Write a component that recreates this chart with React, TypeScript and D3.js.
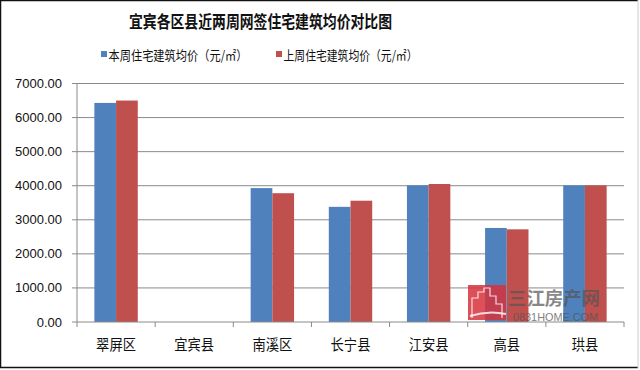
import React from "react";
import * as d3 from "d3";

const categories = ["翠屏区", "宜宾县", "南溪区", "长宁县", "江安县", "高县", "珙县"];
const seriesNames = ["本周住宅建筑均价（元/㎡）", "上周住宅建筑均价（元/㎡）"];
const thisWeek: (number | null)[] = [6430, null, 3930, 3380, 4010, 2760, 4010];
const lastWeek: (number | null)[] = [6500, null, 3780, 3560, 4050, 2720, 4010];
const yTicks = [0, 1000, 2000, 3000, 4000, 5000, 6000, 7000];
const colors = ["#4F81BD", "#C0504D"];

const W = 640;
const H = 370;
const left = 77;
const right = 624;
const top = 83.5;
const bottom = 322;

export default function App() {
  const x0 = d3.scaleBand<string>().domain(categories).range([left, right]).paddingInner(0).paddingOuter(0);
  const x1 = d3
    .scaleBand<number>()
    .domain([0, 1])
    .range([0, x0.bandwidth()])
    .paddingInner(0)
    .paddingOuter(0.8);
  const y = d3.scaleLinear().domain([0, 7000]).range([bottom, top]);
  const series = [thisWeek, lastWeek];
  const cjk = "'Noto Sans CJK SC', 'Noto Sans', sans-serif";
  const num = "'Liberation Sans', Arial, sans-serif";

  const boundaries = categories.map((c) => x0(c) as number).concat([right]);

  return (
    <svg
      width={W}
      height={H}
      style={{ position: "absolute", left: 0, top: 0, background: "#fff" }}
    >
      <rect x={0} y={0} width={W} height={H} fill="#fff" />
      {/* frame */}
      <line x1={0.5} y1={0} x2={0.5} y2={368} stroke="#111" strokeWidth={1.5} />
      <line x1={0} y1={0.5} x2={638} y2={0.5} stroke="#111" strokeWidth={1.5} />
      <line x1={0} y1={367.5} x2={638} y2={367.5} stroke="#111" strokeWidth={1.5} />
      <line x1={638} y1={0} x2={638} y2={368} stroke="#ccc" strokeWidth={1} />

      {/* title */}
      <text
        x={129}
        y={27.5}
        textLength={263}
        lengthAdjust="spacingAndGlyphs"
        fontFamily={cjk}
        fontWeight="bold"
        fontSize={17}
        fill="#111"
      >
        宜宾各区县近两周网签住宅建筑均价对比图
      </text>

      {/* legend */}
      {seriesNames.map((name, i) => {
        const lx = i === 0 ? 101 : 276;
        return (
          <g key={name}>
            <rect x={lx} y={51} width={6} height={6} fill={colors[i]} />
            <text
              x={lx + 7.5}
              y={54.5}
              dominantBaseline="central"
              textLength={i === 0 ? 139 : 134}
              lengthAdjust="spacingAndGlyphs"
              fontFamily={cjk}
              fontSize={13}
              fill="#111"
            >
              {name}
            </text>
          </g>
        );
      })}

      {/* gridlines */}
      {yTicks.map((t) =>
        t === 0 ? null : (
          <line
            key={t}
            x1={left}
            x2={right}
            y1={y(t)}
            y2={y(t)}
            stroke="#8a8a8a"
            strokeWidth={1}
          />
        )
      )}

      {/* bars */}
      {series.map((vals, si) =>
        vals.map((v, ci) =>
          v == null ? null : (
            <rect
              key={`${si}-${ci}`}
              x={(x0(categories[ci]) as number) + (x1(si) as number)}
              y={y(v)}
              width={x1.bandwidth()}
              height={y(0) - y(v)}
              fill={colors[si]}
            />
          )
        )
      )}

      {/* y axis */}
      <line x1={left} x2={left} y1={top} y2={bottom} stroke="#8a8a8a" strokeWidth={1} />
      {yTicks.map((t) => (
        <g key={t}>
          <line x1={left - 5} x2={left} y1={y(t)} y2={y(t)} stroke="#8a8a8a" />
          <text
            x={62}
            y={y(t)}
            textAnchor="end"
            dominantBaseline="central"
            fontFamily={num}
            fontSize={13}
            fill="#111"
          >
            {t.toFixed(2)}
          </text>
        </g>
      ))}

      {/* x axis */}
      <line x1={left} x2={right} y1={bottom} y2={bottom} stroke="#8a8a8a" strokeWidth={1} />
      {boundaries.map((bx, i) => (
        <line key={i} x1={bx} x2={bx} y1={bottom} y2={bottom + 5} stroke="#8a8a8a" />
      ))}
      {categories.map((c) => {
        const tl = c.length * 13.3;
        return (
          <text
            key={c}
            x={(x0(c) as number) + x0.bandwidth() / 2 - tl / 2}
            y={343.5}
            dominantBaseline="central"
            textLength={tl}
            lengthAdjust="spacingAndGlyphs"
            fontFamily={cjk}
            fontSize={15}
            fill="#111"
          >
            {c}
          </text>
        );
      })}

      {/* watermark */}
      <g>
        <rect x={468} y={285} width={38} height={35} fill="#d6323c" opacity={0.85} />
        <path
          d="M472 318 L472 298 L478 298 L478 292 L484 292 L484 288 L490 288 L490 296 L496 296 L496 304 L502 304 L502 318"
          fill="none"
          stroke="#fff"
          strokeWidth={1.2}
          opacity={0.8}
        />
        <path d="M470 316 Q488 310 506 314" fill="none" stroke="#fff" strokeWidth={2} opacity={0.8} />
        <text
          x={508}
          y={297}
          textLength={92}
          lengthAdjust="spacingAndGlyphs"
          dominantBaseline="central"
          fontFamily={cjk}
          fontSize={18}
          fontWeight="bold"
          fill="#555"
          opacity={0.7}
        >
          三江房产网
        </text>
        <text
          x={513}
          y={316.5}
          textLength={85}
          lengthAdjust="spacingAndGlyphs"
          dominantBaseline="central"
          fontFamily={num}
          fontSize={11}
          fill="#555"
          opacity={0.75}
        >
          0831HOME.COM
        </text>
      </g>
    </svg>
  );
}
